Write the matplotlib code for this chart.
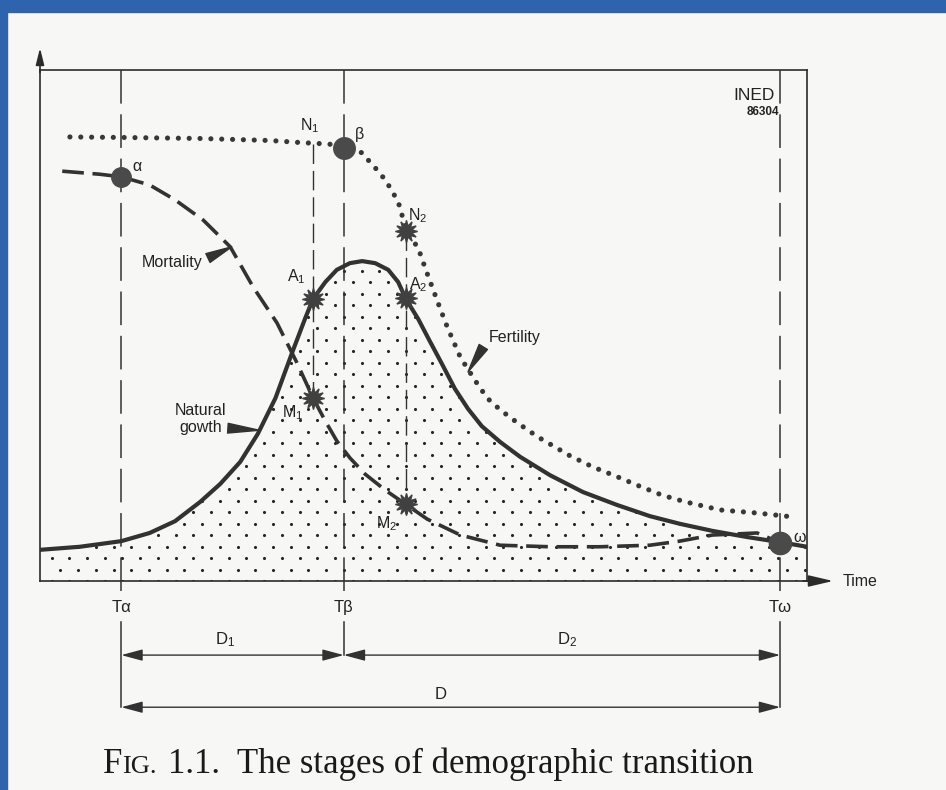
import numpy as np
import matplotlib.pyplot as plt
from matplotlib import font_manager
from matplotlib.patches import Rectangle

# pick a narrow sans if the box has one
names = {f.name for f in font_manager.fontManager.ttflist}
sans = 'Liberation Sans Narrow' if 'Liberation Sans Narrow' in names else 'Liberation Sans'
plt.rcParams['font.family'] = [sans, 'DejaVu Sans']
plt.rcParams['mathtext.fontset'] = 'custom'
plt.rcParams['mathtext.rm'] = sans
plt.rcParams['mathtext.it'] = sans + ':italic'
plt.rcParams['mathtext.default'] = 'regular'

# stage times on the time axis (0-100)
t_alpha, t_beta, t_omega = 10.6, 39.6, 96.5
t_n1, t_n2 = 35.6, 47.7

# fertility (dotted)
fert_x = [3.9, 10.6, 20.9, 30.0, 34.0, 36.5, 38.5, 39.7, 42.0, 43.0, 44.1, 45.1, 45.9, 46.7, 47.2,
          47.7, 49.3, 50.3, 52.0, 53.1, 54.8, 56.7, 58.3, 60.0, 62.3, 64.9, 69.1, 72.1, 75.1,
          78.1, 81.1, 84.1, 88.7, 93.5, 98.4]
fert_y = [86.9, 86.8, 86.6, 86.2, 85.8, 85.6, 85.4, 84.7, 83.8, 82.0, 80.2, 78.3, 76.3, 74.2, 71.6,
          68.5, 65.2, 60.9, 54.0, 49.7, 43.8, 39.3, 35.8, 33.5, 30.9, 28.2, 24.5, 22.3, 20.5,
          18.6, 16.8, 15.5, 13.9, 13.3, 12.5]

# mortality (dashed)
mort_x = [2.9, 7.8, 10.6, 14.3, 17.6, 21.3, 24.8, 27.8, 30.9, 33.5, 35.6, 37.2, 38.7, 40.4, 42.4,
          45.0, 47.6, 50.5, 54.8, 60.0, 66.5, 73.0, 79.5, 83.4, 87.7, 93.5, 96.5]
mort_y = [80.2, 79.6, 79.1, 77.5, 74.6, 70.6, 65.4, 57.5, 50.5, 42.7, 35.8, 31.3, 27.4, 24.1, 20.9,
          17.8, 15.1, 12.1, 9.0, 7.0, 6.7, 6.7, 7.0, 7.8, 9.0, 9.4, 7.5]

# natural growth (solid, stippled below)
grow_x = [0.0, 5.2, 10.6, 14.3, 17.6, 20.9, 23.5, 26.1, 28.4, 30.7, 32.9, 34.6, 35.6, 37.2, 38.7,
          40.4, 42.0, 43.7, 45.4, 46.7, 47.7, 49.3, 50.8, 52.4, 54.1, 55.8, 57.6, 60.0, 62.6,
          66.5, 70.8, 75.2, 79.5, 83.4, 87.7, 92.2, 96.5, 100.0]
grow_y = [6.1, 6.7, 7.8, 9.4, 11.7, 15.5, 19.0, 23.3, 28.8, 35.8, 44.8, 51.5, 55.2, 58.5, 60.9,
          62.2, 62.6, 62.2, 60.9, 58.5, 55.2, 51.3, 47.0, 42.5, 37.6, 33.7, 30.3, 27.2, 24.3,
          20.7, 17.4, 14.9, 12.7, 11.2, 9.8, 8.6, 7.6, 6.7]

# special points
alpha_y, beta_y, omega_y = 79.1, 84.7, 7.5
n1_y, a1_y, m1_y = 85.6, 55.2, 35.8
n2_y, a2_y, m2_y = 68.5, 55.4, 15.1

ink = '#323232'

fig = plt.figure(figsize=(9.46, 7.9), dpi=100, facecolor='#f7f7f5')
fig.patches.append(Rectangle((0, 1 - 12 / 790), 1, 12 / 790, transform=fig.transFigure,
                             color='#2e63ad', zorder=0))
fig.patches.append(Rectangle((0, 0), 7 / 946, 1, transform=fig.transFigure,
                             color='#2e63ad', zorder=0))

ax = fig.add_axes([40 / 946, 1 - 581 / 790, 767 / 946, 511 / 790])
ax.set_xlim(0, 100)
ax.set_ylim(0, 100)
ax.set_facecolor('none')
ax.set_xticks([])
ax.set_yticks([])
for s in ax.spines.values():
    s.set_color('#2b2b2b')
    s.set_linewidth(1.2)

# axis arrows
ax.annotate('', xy=(0, 104.3), xytext=(0, 99.5), annotation_clip=False,
            arrowprops=dict(arrowstyle='-|>,head_length=1.0,head_width=0.25', lw=1.2,
                            color='#2b2b2b', shrinkA=0, shrinkB=0))
ax.annotate('', xy=(103.4, 0), xytext=(99.5, 0), annotation_clip=False,
            arrowprops=dict(arrowstyle='-|>,head_length=1.5,head_width=0.35', lw=1.2,
                            color='#2b2b2b', shrinkA=0, shrinkB=0))
ax.text(104.6, 0, 'Time', va='center', ha='left', fontsize=11.5, color='#222', clip_on=False)

# stipple under natural growth: staggered dot grid clipped to the area
area = ax.fill_between(grow_x, 0, grow_y, facecolor='none', linewidth=0, zorder=1)
sx, sy = [], []
for i, yy in enumerate(np.arange(0, 66, 2.25)):
    for xx in np.arange(1.5 + (i % 2) * 1.155, 100, 2.31):
        sx.append(xx)
        sy.append(yy)
dots = ax.scatter(sx, sy, s=5, color='#262626', linewidths=0, zorder=2)
dots.set_clip_path(area.get_paths()[0], ax.transData)

# curves
ax.plot(grow_x, grow_y, color=ink, lw=3.0, solid_capstyle='round', solid_joinstyle='round', zorder=4)
ax.plot(mort_x, mort_y, color=ink, lw=2.6, linestyle=(0, (6, 2.4)), zorder=4)
ax.plot(fert_x, fert_y, color='#383838', lw=3.7, linestyle=(0, (0.01, 2.1)),
        dash_capstyle='round', zorder=4)

# stage verticals
for t, low in ((t_alpha, -24.7), (t_beta, -14.5), (t_omega, -24.7)):
    ax.plot([t, t], [100, -2.7], color=ink, lw=1.1, linestyle=(0, (22, 7)), clip_on=False, zorder=3)
    ax.plot([t, t], [-8.0, low], color=ink, lw=1.1, clip_on=False, zorder=3)
ax.plot([t_n1, t_n1], [n1_y, m1_y], color=ink, lw=1.0, linestyle=(0, (14, 5)), zorder=3)
ax.plot([t_n2, t_n2], [n2_y, m2_y], color=ink, lw=1.0, linestyle=(0, (14, 5)), zorder=3)

# markers
ax.plot([t_alpha], [alpha_y], 'o', ms=14, color='#4a4a4a', zorder=6)
ax.plot([t_beta], [beta_y], 'o', ms=15.5, color='#4a4a4a', zorder=6)
ax.plot([t_omega], [omega_y], 'o', ms=16, color='#4a4a4a', zorder=6, clip_on=False)
ax.plot([t_n1, t_n1, t_n2, t_n2, t_n2], [a1_y, m1_y, n2_y, a2_y, m2_y], ls='none',
        marker=(12, 1, 0), ms=16, color='#404040', zorder=6)

# point labels
fs = 11.5
labels = [('N$_1$', 35.2, 89.2), ('A$_1$', 33.4, 59.5), ('M$_1$', 33.0, 32.9),
          ('N$_2$', 49.3, 71.4), ('A$_2$', 49.3, 57.9), ('M$_2$', 45.2, 11.2),
          ('α', 12.6, 81.2), ('β', 41.7, 87.3), ('ω', 99.1, 8.6)]
for s, x, y in labels:
    ax.text(x, y, s, ha='center', va='center', fontsize=fs, color='#222', zorder=7, clip_on=False)

# curve names with wedge pointers
ax.text(17.2, 62.4, 'Mortality', ha='center', va='center', fontsize=fs, color='#222')
ax.annotate('', xy=(25.0, 65.4), xytext=(21.9, 63.2),
            arrowprops=dict(arrowstyle='wedge,tail_width=0.7', fc=ink, ec=ink, shrinkA=0, shrinkB=0))
ax.text(20.9, 31.7, 'Natural\ngowth', ha='center', va='center', fontsize=fs, color='#222',
        linespacing=1.1)
ax.annotate('', xy=(28.6, 29.5), xytext=(24.5, 29.9),
            arrowprops=dict(arrowstyle='wedge,tail_width=0.7', fc=ink, ec=ink, shrinkA=0, shrinkB=0))
ax.text(61.9, 47.6, 'Fertility', ha='center', va='center', fontsize=fs, color='#222')
ax.annotate('', xy=(55.8, 40.9), xytext=(57.8, 45.8),
            arrowprops=dict(arrowstyle='wedge,tail_width=0.7', fc=ink, ec=ink, shrinkA=0, shrinkB=0))

# INED stamp
ax.text(95.8, 95.0, 'INED', ha='right', va='center', fontsize=12.5, color='#222')
ax.text(96.4, 91.7, '86304', ha='right', va='center', fontsize=8.5, fontweight='bold', color='#222')

# time labels and durations
for s, t in (('Tα', t_alpha), ('Tβ', t_beta), ('Tω', t_omega)):
    ax.text(t, -5.1, s, ha='center', va='center', fontsize=12, color='#222', clip_on=False)

arrow = dict(arrowstyle='<|-|>,head_length=1.3,head_width=0.35', lw=1.0, color=ink,
             shrinkA=0, shrinkB=0)
ax.annotate('', xy=(t_beta, -14.5), xytext=(t_alpha, -14.5), arrowprops=arrow, annotation_clip=False)
ax.annotate('', xy=(t_omega, -14.5), xytext=(t_beta, -14.5), arrowprops=arrow, annotation_clip=False)
ax.annotate('', xy=(t_omega, -24.7), xytext=(t_alpha, -24.7), arrowprops=arrow, annotation_clip=False)
ax.text(24.1, -11.5, 'D$_1$', ha='center', va='center', fontsize=12, color='#222', clip_on=False)
ax.text(68.7, -11.5, 'D$_2$', ha='center', va='center', fontsize=12, color='#222', clip_on=False)
ax.text(52.2, -22.3, 'D', ha='center', va='center', fontsize=12, color='#222', clip_on=False)

# caption
cap_y = 1 - 773 / 790
serif = 'Liberation Serif'
fig.text(103 / 946, cap_y, 'F', fontsize=25, family=serif, color='#1a1a1a', va='baseline')
fig.text(122 / 946, cap_y, 'IG.', fontsize=19, family=serif, color='#1a1a1a', va='baseline')
fig.text(168 / 946, cap_y, '1.1.  The stages of demographic transition', fontsize=25,
         family=serif, color='#1a1a1a', va='baseline')

fig.savefig('out.png', dpi=100, facecolor=fig.get_facecolor())
